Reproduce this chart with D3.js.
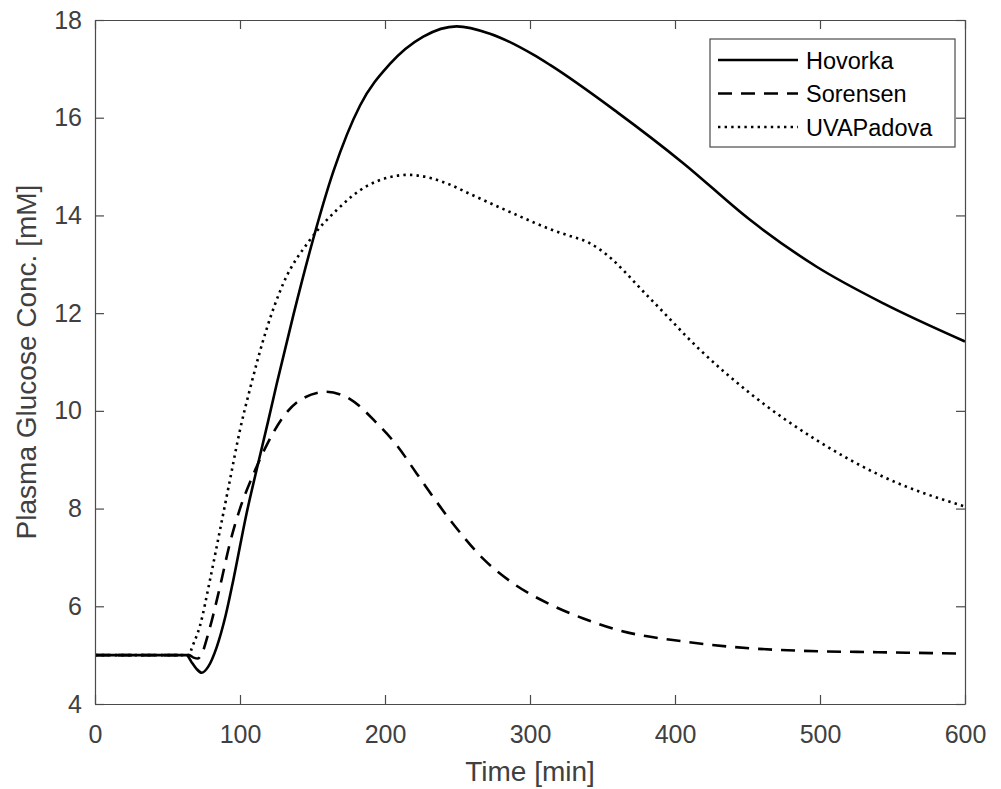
<!DOCTYPE html>
<html>
<head>
<meta charset="utf-8">
<script src="https://cdn.jsdelivr.net/npm/d3@7"></script>
<style>
  body { margin: 0; background: #fff; }
  svg { display: block; font-family: "Liberation Sans", Arial, Helvetica, sans-serif; }
  .axis path, .axis line { stroke: #4a4a4a; stroke-width: 1.2; }
  .axis text { fill: #404040; font-size: 25px; }
  .label { fill: #404040; font-size: 28px; }
</style>
</head>
<body>
<svg id="chart" width="1001" height="789"></svg>
<script>
// time grid [min] and glucose values [mM]
var hovorkaT = [0, 63, 67, 70, 73.6, 78, 84, 90, 95.4, 104.6, 111.5, 119.5, 125.3, 136.8, 149.4, 164.4, 182.8, 203.4, 226.4, 249.4, 272.4, 302.3, 313.8, 359.8, 405.7, 451.7, 497.7, 543.7, 600];
var hovorkaV = [5.0, 5.0, 4.84, 4.72, 4.64, 4.76, 5.17, 5.8, 6.54, 7.91, 8.8, 9.8, 10.55, 11.96, 13.4, 14.9, 16.25, 17.1, 17.66, 17.87, 17.72, 17.29, 17.08, 16.12, 15.07, 13.91, 12.95, 12.2, 11.42];

var sorensenT = [0, 65, 68, 71, 74, 78.2, 86.2, 93.1, 100, 109.2, 118.4, 129.9, 141.4, 159.8, 175.9, 194.3, 208, 221.8, 244.8, 267.8, 290.8, 313.8, 336.8, 359.8, 405.7, 451.7, 486, 540, 600];
var sorensenV = [5.0, 5.0, 4.95, 4.93, 5.05, 5.45, 6.4, 7.3, 8.0, 8.7, 9.3, 9.88, 10.22, 10.39, 10.24, 9.75, 9.3, 8.72, 7.77, 6.97, 6.42, 6.04, 5.75, 5.52, 5.28, 5.14, 5.09, 5.06, 5.03];

var uvaT = [0, 65, 66.7, 72.4, 79.3, 86.2, 93.1, 100, 106.9, 118.4, 129.9, 148.3, 166.7, 187.4, 216, 244.8, 256.4, 290.8, 313.8, 325.3, 340, 348.3, 382.8, 417.2, 451.7, 497.7, 543.7, 600];
var uvaV = [5.0, 5.0, 5.14, 5.6, 6.54, 7.56, 8.59, 9.61, 10.45, 11.68, 12.61, 13.5, 14.11, 14.6, 14.83, 14.63, 14.47, 14.01, 13.72, 13.6, 13.45, 13.3, 12.3, 11.25, 10.36, 9.4, 8.65, 8.04];

var seriesNames = ['Hovorka', 'Sorensen', 'UVAPadova'];
var xTicks = [0, 100, 200, 300, 400, 500, 600];
var yTicks = [4, 6, 8, 10, 12, 14, 16, 18];

var margin = {top: 20, right: 36, bottom: 85, left: 95};
var svg = d3.select('#chart');
var width = +svg.attr('width') - margin.left - margin.right;
var height = +svg.attr('height') - margin.top - margin.bottom;

var x = d3.scaleLinear().domain([0, 600]).range([0, width]);
var y = d3.scaleLinear().domain([4, 18]).range([height, 0]);

var g = svg.append('g').attr('transform', 'translate(' + margin.left + ',' + margin.top + ')');

function pairs(ts, vs) {
    return ts.map(function(t, i) { return [t, vs[i]]; });
}

var styles = [
    {dash: null, width: 2.6},
    {dash: '14,9', width: 2.6},
    {dash: '2.4,4.2', width: 2.6}
];
var series = [pairs(hovorkaT, hovorkaV), pairs(sorensenT, sorensenV), pairs(uvaT, uvaV)];

var line = d3.line()
    .x(function(d) { return x(d[0]); })
    .y(function(d) { return y(d[1]); })
    .curve(d3.curveMonotoneX);

g.append('defs').append('clipPath').attr('id', 'clip')
    .append('rect').attr('width', width).attr('height', height);

series.forEach(function(s, i) {
    g.append('path')
        .datum(s)
        .attr('clip-path', 'url(#clip)')
        .attr('fill', 'none')
        .attr('stroke', '#000')
        .attr('stroke-width', styles[i].width)
        .attr('stroke-dasharray', styles[i].dash)
        .attr('d', line);
});

// axes, MATLAB style box with inward ticks on all sides
g.append('g').attr('class', 'axis')
    .attr('transform', 'translate(0,' + height + ')')
    .call(d3.axisBottom(x).tickValues(xTicks).tickSize(-9).tickSizeOuter(0).tickPadding(21));
g.append('g').attr('class', 'axis')
    .call(d3.axisLeft(y).tickValues(yTicks).tickSize(-9).tickSizeOuter(0).tickPadding(13));
g.append('g').attr('class', 'axis')
    .call(d3.axisTop(x).tickValues(xTicks).tickSize(-9).tickSizeOuter(0).tickFormat(''));
g.append('g').attr('class', 'axis')
    .attr('transform', 'translate(' + width + ',0)')
    .call(d3.axisRight(y).tickValues(yTicks).tickSize(-9).tickSizeOuter(0).tickFormat(''));

svg.append('text').attr('class', 'label')
    .attr('x', margin.left + width / 2)
    .attr('y', 781)
    .attr('text-anchor', 'middle')
    .text('Time [min]');

svg.append('text').attr('class', 'label')
    .attr('transform', 'translate(36,' + (margin.top + height / 2) + ') rotate(-90)')
    .attr('text-anchor', 'middle')
    .text('Plasma Glucose Conc. [mM]');

// legend
var legend = svg.append('g').attr('transform', 'translate(710,39)');
legend.append('rect')
    .attr('width', 245).attr('height', 108)
    .attr('fill', '#fff').attr('stroke', '#4a4a4a').attr('stroke-width', 1.2);

seriesNames.forEach(function(name, i) {
    var ly = 21 + i * 33.5;
    legend.append('line')
        .attr('x1', 8).attr('x2', 88)
        .attr('y1', ly).attr('y2', ly)
        .attr('stroke', '#000')
        .attr('stroke-width', styles[i].width)
        .attr('stroke-dasharray', styles[i].dash);
    legend.append('text')
        .attr('x', 96).attr('y', ly + 8.5)
        .attr('fill', '#000')
        .style('font-size', '23.5px')
        .text(name);
});
</script>
</body>
</html>
